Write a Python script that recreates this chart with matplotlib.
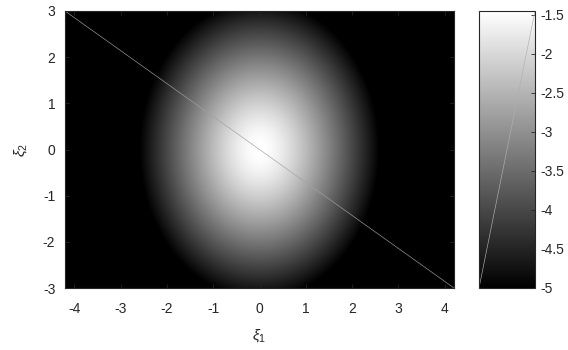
import numpy as np
import matplotlib.pyplot as plt

plt.rcParams['font.family'] = ['Liberation Sans', 'DejaVu Sans']
plt.rcParams['mathtext.fontset'] = 'custom'
plt.rcParams['mathtext.rm'] = 'Liberation Sans'
plt.rcParams['mathtext.it'] = 'Liberation Sans:italic'
plt.rcParams['axes.unicode_minus'] = False

# grid and field parameters (clipped at -5)
x_lim = [-4.2, 4.2]
y_lim = [-3, 3]
z_peak = -1.45
z_floor = -5
ax1 = 2.6    # half-width where field hits floor along xi1
ax2 = 3.25   # same along xi2
r0 = 0.25    # rounding of the peak
c_lim = [-5, -1.45]
x_ticks = [-4, -3, -2, -1, 0, 1, 2, 3, 4]
y_ticks = [-3, -2, -1, 0, 1, 2, 3]
c_ticks = [-5, -4.5, -4, -3.5, -3, -2.5, -2, -1.5]

xi1 = np.linspace(x_lim[0], x_lim[1], 421)
xi2 = np.linspace(y_lim[0], y_lim[1], 301)
X, Y = np.meshgrid(xi1, xi2)
rho = np.sqrt((X / ax1)**2 + (Y / ax2)**2)
shape = (np.sqrt(rho**2 + r0**2) - r0) / (np.sqrt(1 + r0**2) - r0)
Z = z_peak - (z_peak - z_floor) * shape
Z = np.clip(Z, z_floor, None)

fc = '#262626'
fig = plt.figure(figsize=(5.68, 3.5), dpi=100)
ax = fig.add_axes([65/568, 1-288/350, (454-65)/568, (288-11)/350])
cax = fig.add_axes([479/568, 1-288/350, (535-479)/568, (288-11)/350])

im = ax.imshow(Z, extent=[x_lim[0], x_lim[1], y_lim[0], y_lim[1]], origin='lower',
               cmap='gray', vmin=c_lim[0], vmax=c_lim[1], aspect='auto',
               interpolation='bilinear')
ax.plot(x_lim, [y_lim[1], y_lim[0]], color='#a0a0a0', lw=0.45)
ax.set_xlim(x_lim)
ax.set_ylim(y_lim)
ax.set_xticks(x_ticks)
ax.set_yticks(y_ticks)
ax.tick_params(direction='in', top=True, right=True, length=3, width=0.6,
               colors=fc, labelsize=10)
ax.tick_params(axis='x', pad=10)
ax.tick_params(axis='y', pad=7)
for s in ax.spines.values():
    s.set_color(fc)
    s.set_linewidth(0.8)
ax.set_xlabel(r'$\xi_1$', fontsize=11, color=fc, labelpad=8)
ax.set_ylabel(r'$\xi_2$', fontsize=11, color=fc, labelpad=10)

cb = fig.colorbar(im, cax=cax)
cb.set_ticks(c_ticks)
cb.set_ticklabels(['%g' % t for t in c_ticks])
cax.tick_params(direction='in', length=3, width=0.6, colors=fc, labelsize=10, pad=4)
cb.outline.set_edgecolor(fc)
cb.outline.set_linewidth(0.8)
cax.plot([0, 1], [0, 1], transform=cax.transAxes, color='#b0b0b0', lw=0.45)

fig.savefig('out.png', dpi=100)
